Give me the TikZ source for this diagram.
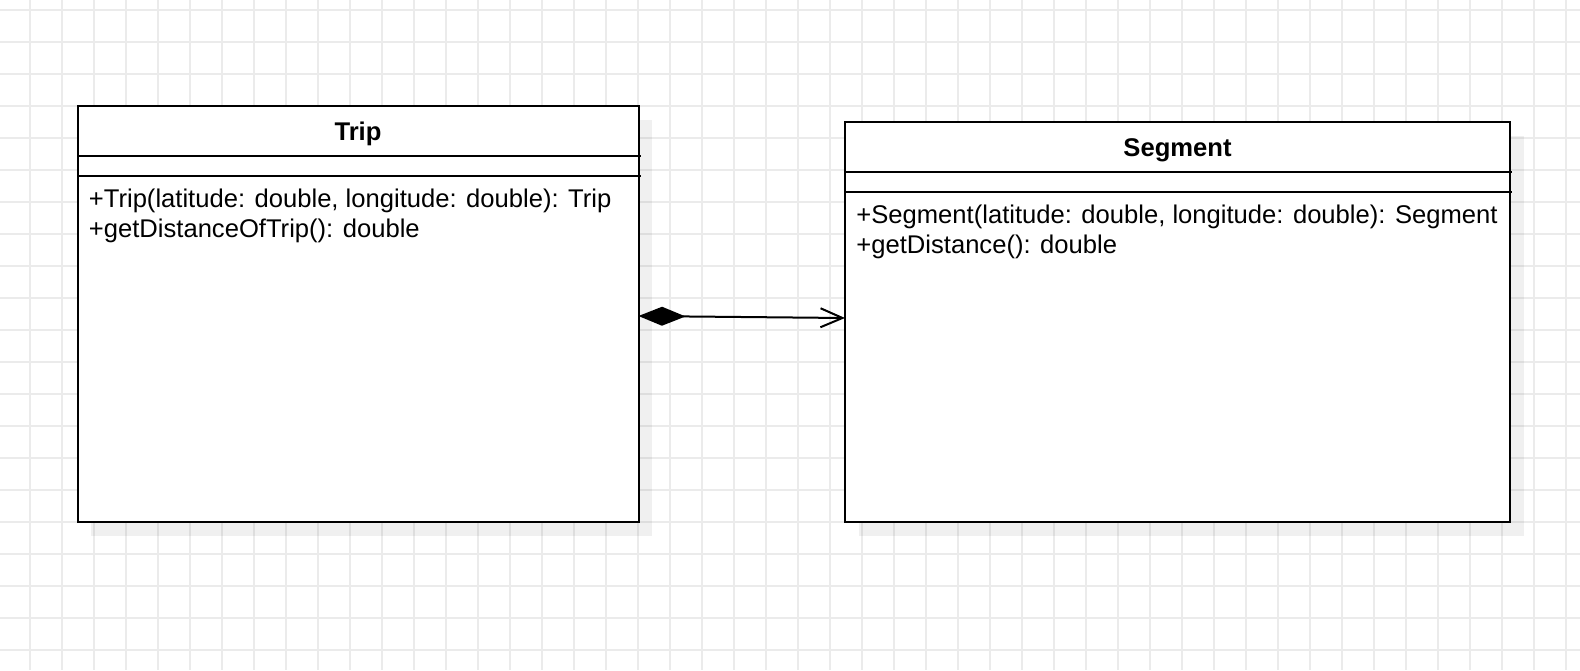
\documentclass[tikz,border=0pt]{standalone}
\usepackage{fontspec}
\setmainfont{Liberation Sans}
\usetikzlibrary{arrows.meta}
\definecolor{gridgray}{RGB}{235,235,235}
\tikzset{
  gridline/.style={draw=gridgray, line width=1pt},
  umlbox/.style={draw=black, fill=white, line width=1pt, inner sep=0pt, outer sep=0pt, anchor=north west},
  shadowbox/.style={fill=black, fill opacity=0.06, draw=none, inner sep=0pt, outer sep=0pt, anchor=north west},
  sepline/.style={draw=black, line width=1pt},
  titletext/.style={font=\fontsize{12.8}{15}\selectfont\bfseries, inner sep=0pt, anchor=center},
  membertext/.style={font=\fontsize{12.8}{15}\selectfont, inner sep=0pt, anchor=base west},
  assoc/.style={draw=black, line width=1pt,
    {Diamond[length=23.5pt,width=9.5pt,fill=black]}-{Straight Barb[length=11pt,width=9.5pt]}}
}
\begin{document}
\begin{tikzpicture}[x=0.5pt,y=-0.5pt]
\useasboundingbox (0,0) rectangle (1580,670);
\fill[white] (0,0) rectangle (1580,670);
% grid
\foreach \gx in {30,62,...,1566} \draw[gridline] (\gx,0) -- (\gx,670);
\foreach \gy in {10,42,...,650} \draw[gridline] (0,\gy) -- (1580,\gy);
% shadows
\node[shadowbox, minimum width=280.5pt, minimum height=208pt] (tripshadow) at (91,119.5) {};
\node[shadowbox, minimum width=332.5pt, minimum height=200pt] (segshadow) at (858.5,135.5) {};
% boxes
\node[umlbox, minimum width=280.5pt, minimum height=208pt] (trip) at (77.5,106) {};
\node[umlbox, minimum width=332.5pt, minimum height=200pt] (seg) at (845,122) {};
% separators
\coordinate (tripA) at (77.5,156);
\coordinate (tripB) at (640.5,156);
\coordinate (tripC) at (77.5,176);
\coordinate (tripD) at (640.5,176);
\draw[sepline] (tripA) -- (tripB);
\draw[sepline] (tripC) -- (tripD);
\coordinate (segA) at (845,172);
\coordinate (segB) at (1512,172);
\coordinate (segC) at (845,192);
\coordinate (segD) at (1512,192);
\draw[sepline] (segA) -- (segB);
\draw[sepline] (segC) -- (segD);
% texts
\node[titletext] (triptitle) at (358,134) {Trip};
\node[titletext] (segtitle) at (1177.5,150) {Segment};
\node[membertext] (tripm1) at (88.5,207) {+Trip(latitude: double, longitude: double): Trip};
\node[membertext] (tripm2) at (88.5,237) {+getDistanceOfTrip(): double};
\node[membertext] (segm1) at (856,223) {+Segment(latitude: double, longitude: double): Segment};
\node[membertext] (segm2) at (856,253) {+getDistance(): double};
% connector
\draw[assoc] ([yshift=-1pt]trip.east) -- ([yshift=2pt]seg.west);
\end{tikzpicture}
\end{document}
